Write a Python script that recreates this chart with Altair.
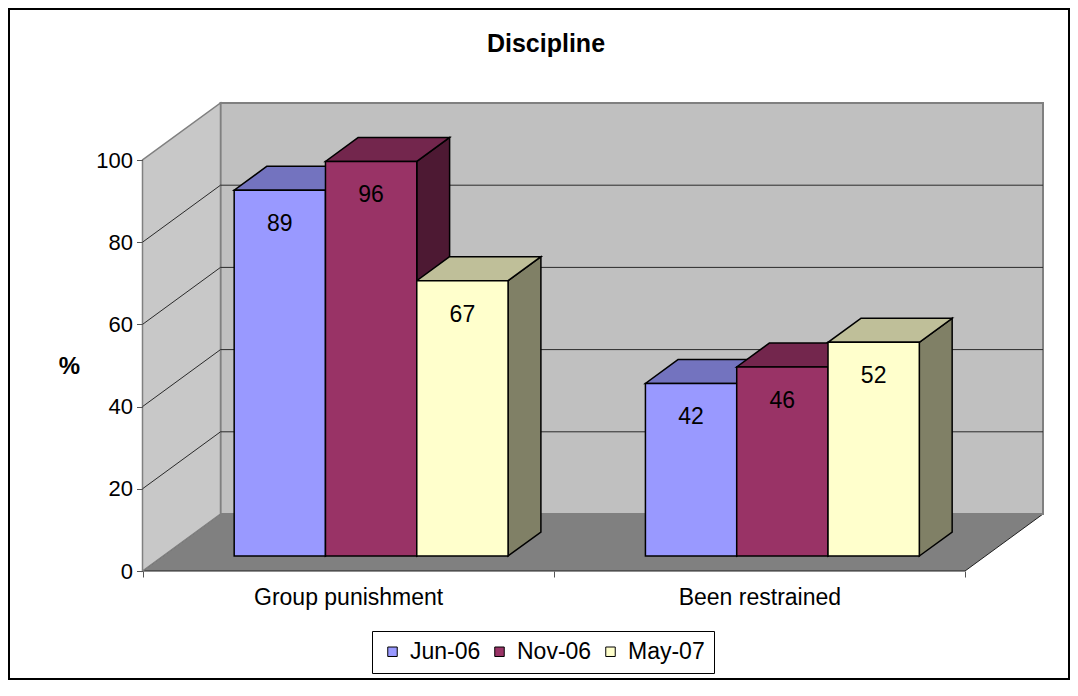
import altair as alt
import pandas as pd

# ---------------- data ----------------
categories = ["Group punishment", "Been restrained"]
series = ["Jun-06", "Nov-06", "May-07"]
jun_06 = [89, 42]
nov_06 = [96, 46]
may_07 = [67, 52]
y_ticks = [0, 20, 40, 60, 80, 100]
front_colors = ["#9999FF", "#993366", "#FFFFCC"]
top_colors = ["#7373BF", "#73264D", "#BFBF99"]
side_colors = ["#4D4D80", "#4D1933", "#808066"]
series_values = [jun_06, nov_06, may_07]

# ---------------- layout constants ----------------
W, H = 1062, 672
X0_PX, CAT_PX = 134.5, 411.25          # front axis position and width of one category
Y0_PX, PX_PER_UNIT = 563.0, 4.11       # front zero line and vertical scale
DEPTH_DX_PX, DEPTH_DY_PX = 78.0, 57.0  # oblique depth of the floor / walls

ncat = len(categories)
XMIN = -X0_PX / CAT_PX
XMAX = (W - X0_PX) / CAT_PX
YMIN = -(H - Y0_PX) / PX_PER_UNIT
YMAX = Y0_PX / PX_PER_UNIT
DX = DEPTH_DX_PX / CAT_PX
DY = DEPTH_DY_PX / PX_PER_UNIT
TOP = y_ticks[-1]

BAR_W = 0.222
GROUP_OFF = 0.173
D0 = 15.0 / 57.0
D1 = D0 + 24.0 / 57.0
LABEL_DROP = 34.0 / PX_PER_UNIT

xs = alt.Scale(domain=[XMIN, XMAX], nice=False, zero=False)
ys = alt.Scale(domain=[YMIN, YMAX], nice=False, zero=False)

# ---------------- geometry derived from the data ----------------
fronts, tops, sides, labels = [], [], [], []
for si, (s, vals) in enumerate(zip(series, series_values)):
    for ci, (c, v) in enumerate(zip(categories, vals)):
        xl = ci + GROUP_OFF + si * BAR_W
        xr = xl + BAR_W
        pid = f"{s}|{c}"
        fronts.append(dict(series=s, category=c, x0=xl + D0 * DX, x1=xr + D0 * DX,
                           y0=D0 * DY, y1=v + D0 * DY))
        labels.append(dict(series=s, value=v, x=(xl + xr) / 2 + D0 * DX,
                           y=v + D0 * DY - LABEL_DROP))
        for d in (D0, D1):
            tops.append(dict(pid=pid, fill=top_colors[si], y=v + d * DY,
                             xa=xl + d * DX, xb=xr + d * DX))
            sides.append(dict(pid=pid, fill=side_colors[si], x=xr + d * DX,
                              ya=d * DY, yb=v + d * DY))

fronts_df = pd.DataFrame(fronts)
tops_df = pd.DataFrame(tops)
sides_df = pd.DataFrame(sides)
labels_df = pd.DataFrame(labels)

side_wall_df = pd.DataFrame([dict(x=0.0, ya=0.0, yb=TOP), dict(x=DX, ya=DY, yb=TOP + DY)])
floor_df = pd.DataFrame([dict(y=0.0, xa=0.0, xb=float(ncat)), dict(y=DY, xa=DX, xb=ncat + DX)])
back_wall_df = pd.DataFrame([dict(x0=DX, x1=ncat + DX, y0=DY, y1=TOP + DY)])

grid_rows = []
for v in y_ticks[1:-1]:
    grid_rows.append(dict(x0=0.0, y0=v, x1=DX, y1=v + DY))
    grid_rows.append(dict(x0=DX, y0=v + DY, x1=ncat + DX, y1=v + DY))
grid_df = pd.DataFrame(grid_rows)

FONT = "Liberation Sans"

# ---------------- shared axes ----------------
tick_positions = [i * 0.5 for i in range(2 * ncat + 1)]
label_expr = "".join(
    f"datum.value == {ci + 0.5} ? '{c}' : " for ci, c in enumerate(categories)
) + "''"

x_axis = alt.Axis(
    values=tick_positions, offset=-(H - Y0_PX), domain=False, grid=False,
    tickSize=6, tickColor="#555555", tickWidth=1,
    tickOpacity={"condition": {"test": "datum.value % 1 === 0", "value": 1}, "value": 0},
    labelExpr=label_expr, labelFont=FONT, labelFontSize=23, labelColor="black",
    labelPadding=27, labelBaseline="alphabetic", labelOverlap=False,
    labelFlush=False, labelLimit=0, title=None, zindex=1)

y_axis = alt.Axis(
    values=y_ticks, offset=-X0_PX, domain=False, grid=False,
    tickSize=6, tickColor="#555555", tickWidth=1,
    labelFont=FONT, labelFontSize=22, labelColor="black", labelPadding=4,
    labelBaseline="middle",
    title="%", titleAngle=0, titleX=61 - X0_PX, titleY=358,
    titleAlign="center", titleBaseline="middle",
    titleFont=FONT, titleFontSize=24, titleFontWeight="bold", titleColor="black",
    zindex=1)

# ---------------- layers ----------------
floor = alt.Chart(floor_df).mark_area(orient="horizontal", fill="#808080",
                                      stroke="#202020", strokeWidth=1).encode(
    y=alt.Y("y:Q", scale=ys, axis=y_axis, stack=None),
    x=alt.X("xa:Q", scale=xs, axis=x_axis),
    x2="xb:Q",
)

back_wall = alt.Chart(back_wall_df).mark_rect(fill="#C0C0C0", stroke="#808080",
                                              strokeWidth=2).encode(
    x=alt.X("x0:Q", scale=xs, axis=x_axis), x2="x1:Q",
    y=alt.Y("y0:Q", scale=ys, axis=y_axis), y2="y1:Q",
)

side_wall = alt.Chart(side_wall_df).mark_area(orient="vertical", fill="#C8C8C8",
                                              stroke="#808080", strokeWidth=1.5).encode(
    x=alt.X("x:Q", scale=xs, axis=x_axis),
    y=alt.Y("ya:Q", scale=ys, axis=y_axis, stack=None),
    y2="yb:Q",
)

grid = alt.Chart(grid_df).mark_rule(color="#2a2a2a", strokeWidth=1).encode(
    x=alt.X("x0:Q", scale=xs, axis=x_axis), x2="x1:Q",
    y=alt.Y("y0:Q", scale=ys, axis=y_axis), y2="y1:Q",
)

bar_sides = alt.Chart(sides_df).mark_area(orient="vertical", stroke="black",
                                          strokeWidth=1.5).encode(
    x=alt.X("x:Q", scale=xs, axis=x_axis),
    y=alt.Y("ya:Q", scale=ys, axis=y_axis, stack=None),
    y2="yb:Q",
    fill=alt.Fill("fill:N", scale=None),
    detail="pid:N",
)

bar_tops = alt.Chart(tops_df).mark_area(orient="horizontal", stroke="black",
                                        strokeWidth=1.5).encode(
    y=alt.Y("y:Q", scale=ys, axis=y_axis),
    x=alt.X("xa:Q", scale=xs, axis=x_axis, stack=None),
    x2="xb:Q",
    fill=alt.Fill("fill:N", scale=None),
    detail="pid:N",
)

bar_fronts = alt.Chart(fronts_df).mark_rect(stroke="black", strokeWidth=1.5).encode(
    x=alt.X("x0:Q", scale=xs, axis=x_axis),
    x2="x1:Q",
    y=alt.Y("y0:Q", scale=ys, axis=y_axis),
    y2="y1:Q",
    color=alt.Color("series:N", scale=alt.Scale(domain=series, range=front_colors),
                    legend=alt.Legend(
                        orient="none", legendX=364, legendY=623, direction="horizontal",
                        title=None, symbolType="square", symbolSize=90,
                        symbolStrokeColor="black", symbolStrokeWidth=1, symbolOpacity=1,
                        labelFont=FONT, labelFontSize=23, labelColor="black",
                        labelOffset=6, columnPadding=7, padding=9,
                        strokeColor="black", fillColor="white")),
)

bar_labels = alt.Chart(labels_df).mark_text(font=FONT, fontSize=23, color="black",
                                            baseline="middle", align="center").encode(
    x=alt.X("x:Q", scale=xs, axis=x_axis),
    y=alt.Y("y:Q", scale=ys, axis=y_axis),
    text="value:Q",
)

chart = alt.layer(
    floor, back_wall, side_wall, grid, bar_sides, bar_tops, bar_fronts, bar_labels
).properties(
    width=W, height=H, autosize="none", padding=0,
    view=alt.ViewBackground(stroke="#000000", strokeWidth=4, fill="white"),
    title=alt.TitleParams("Discipline", font=FONT, fontSize=25, fontWeight="bold",
                          color="black", anchor="middle", frame="group",
                          offset=0, baseline="alphabetic", dy=69, dx=7),
).configure(background="white")

chart.save("out.html", embed_options={"renderer": "svg", "actions": False})
